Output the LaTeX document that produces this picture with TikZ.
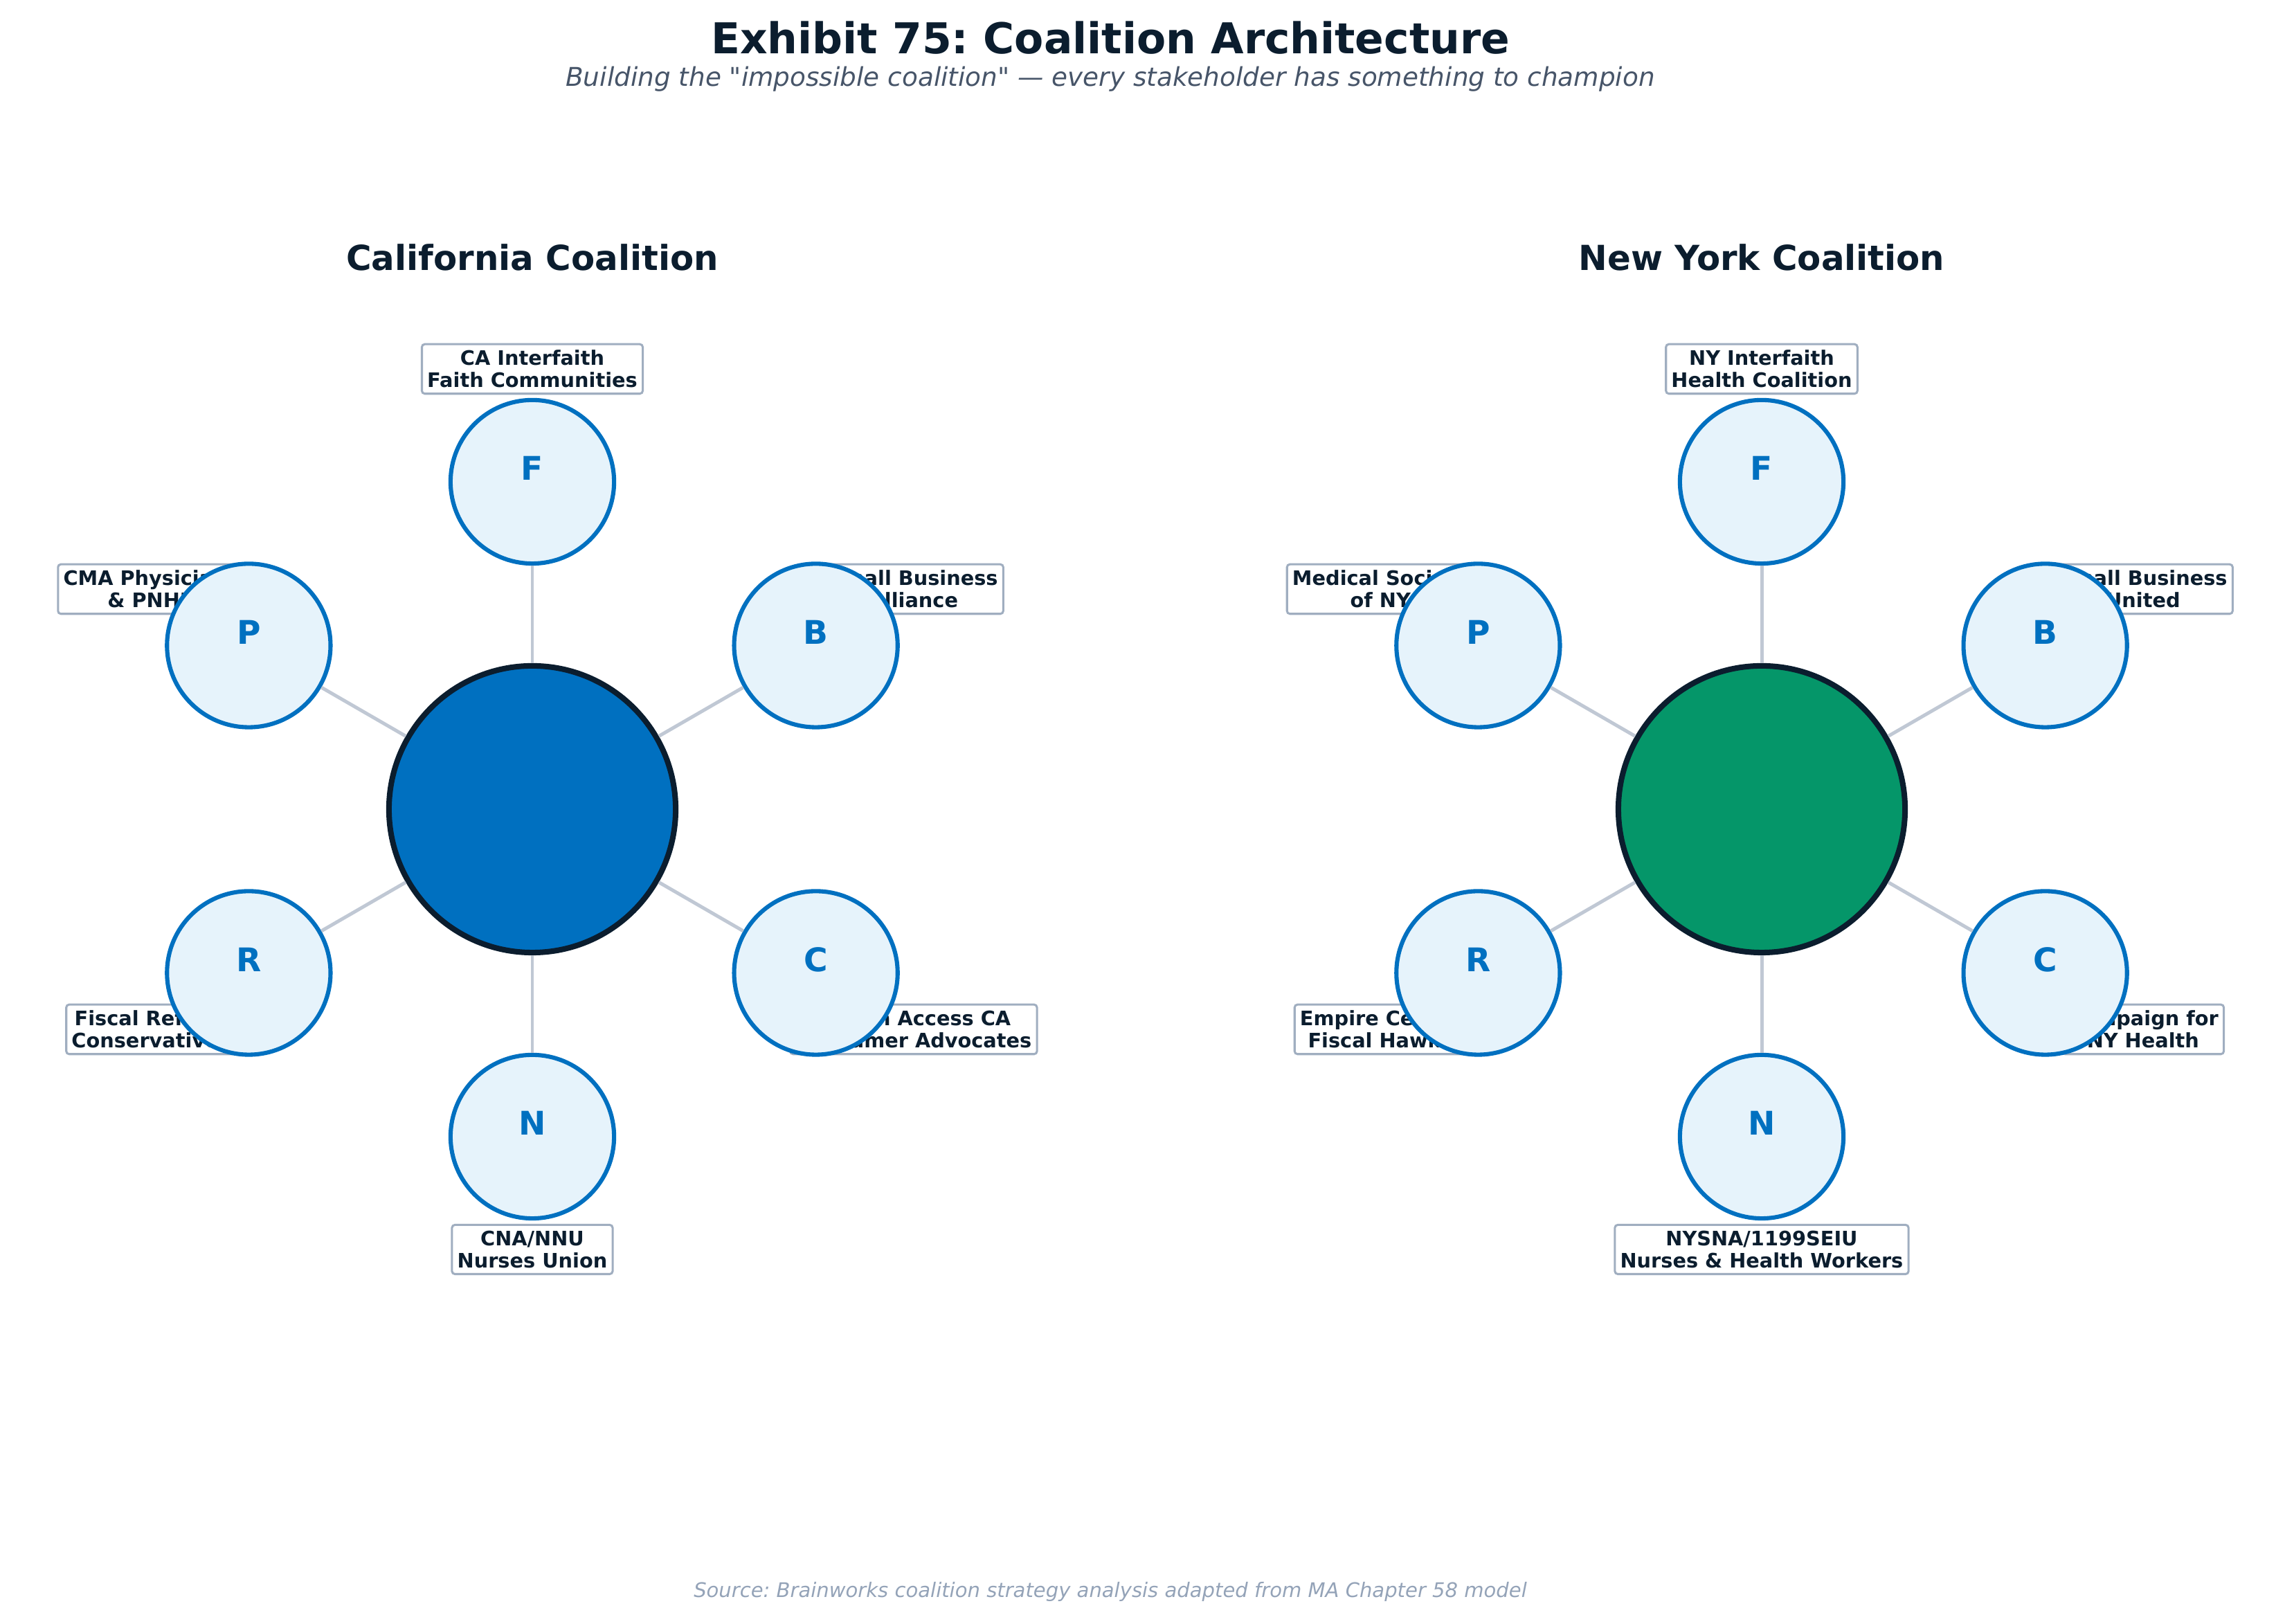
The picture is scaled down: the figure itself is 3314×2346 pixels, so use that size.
\documentclass[tikz,border=0pt]{standalone}
\usepackage{fontspec}
\setmainfont{DejaVu Sans}[Ligatures=TeXOff]
\usetikzlibrary{positioning}
\definecolor{cnavy}{HTML}{0B1D2E}
\definecolor{cblue}{HTML}{0070C0}
\definecolor{cgreen}{HTML}{059669}
\definecolor{cpale}{HTML}{E6F3FB}
\definecolor{cspoke}{HTML}{C0C8D4}
\definecolor{cframe}{HTML}{A0AEC0}
\definecolor{cslate}{HTML}{475569}
\definecolor{cgrey}{HTML}{94A3B8}
\frenchspacing

\begin{document}
\begin{tikzpicture}[
    x=0.127mm, y=0.127mm,
    hub/.style={circle, draw=cnavy, line width=2.9pt, minimum size=52.6mm, inner sep=0pt},
    member/.style={circle, draw=cblue, fill=cpale, line width=2.2pt, minimum size=30mm, inner sep=0pt},
    letter/.style={font=\fontsize{17}{19}\selectfont\bfseries, text=cblue, yshift=7pt},
    tag/.style={rectangle, draw=cframe, fill=white, rounded corners=1.5pt, line width=1.1pt,
                align=center, font=\fontsize{10.4}{11.4}\selectfont\bfseries, text=cnavy,
                inner xsep=2.8pt, inner ysep=3.2pt},
    spoke/.style={draw=cspoke, line width=1.8pt},
    head/.style={font=\fontsize{18}{20}\selectfont\bfseries, text=cnavy}
  ]
    \useasboundingbox (0,0) rectangle (3314,2346);

    \node[font=\fontsize{22.2}{25}\selectfont\bfseries, text=cnavy] (title) at (1604,2291)
        {Exhibit 75: Coalition Architecture};
    \node[font=\fontsize{13.5}{15}\selectfont\itshape, text=cslate] (subtitle) at (1604,2232)
        {Building the "impossible coalition" — every stakeholder has something to champion};
    \node[font=\fontsize{10.5}{12}\selectfont\itshape, text=cgrey] (source) at (1604,46)
        {Source: Brainworks coalition strategy analysis adapted from MA Chapter 58 model};

    % California
    \node[head] (cahead) at (769,1974) {California Coalition};
    \node[hub, fill=cblue] (cahub) at (769,1177) {};
    \foreach \ang/\id/\txt in {90/F/{CA Interfaith\\Faith Communities},
                              30/B/{Small Business\\Alliance},
                              -30/C/{Health Access CA\\Consumer Advocates},
                              -90/N/{CNA/NNU\\Nurses Union},
                              -150/R/{Fiscal Reform\\Conservatives},
                              150/P/{CMA Physicians\\\& PNHP}} {
        \node[tag] (tag-ca\id) at ([shift={(\ang:636)}]cahub.center) {\txt};
        \node[member, label={[letter]center:\id}] (ca\id) at ([shift={(\ang:473)}]cahub.center) {};
        \draw[spoke] (cahub) -- (ca\id);
    }

    % New York
    \node[head] (nyhead) at (2545,1974) {New York Coalition};
    \node[hub, fill=cgreen] (nyhub) at (2545,1177) {};
    \foreach \ang/\id/\txt in {90/F/{NY Interfaith\\Health Coalition},
                              30/B/{Small Business\\United},
                              -30/C/{Campaign for\\NY Health},
                              -90/N/{NYSNA/1199SEIU\\Nurses \& Health Workers},
                              -150/R/{Empire Center\\Fiscal Hawks},
                              150/P/{Medical Society\\of NY}} {
        \node[tag] (tag-ny\id) at ([shift={(\ang:636)}]nyhub.center) {\txt};
        \node[member, label={[letter]center:\id}] (ny\id) at ([shift={(\ang:473)}]nyhub.center) {};
        \draw[spoke] (nyhub) -- (ny\id);
    }
\end{tikzpicture}
\end{document}
